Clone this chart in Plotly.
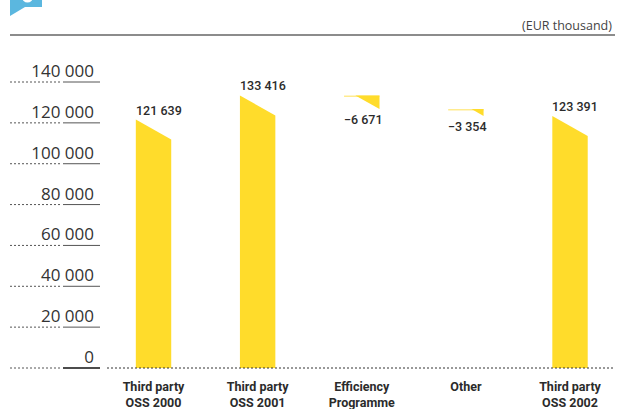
import plotly.graph_objects as go

# Waterfall of third party OSS spending, EUR thousand
categories = ["Third party<br>OSS 2000", "Third party<br>OSS 2001",
              "Efficiency<br>Programme", "Other", "Third party<br>OSS 2002"]
kinds = ["total", "total", "delta", "delta", "total"]
values = [121639, 133416, -6671, -3354, 123391]
y_ticks = [0, 20000, 40000, 60000, 80000, 100000, 120000, 140000]
unit_label = "(EUR thousand)"
title_text = "Third party spending"

W, H = 618, 409
L, R, T, B = 100, 615, 60, 372          # plot area, px
x_range = [-0.514, 4.432]
y_range = [-1958, 150770]

YELLOW = "#FFDC2B"
PALE = "#FFEB8F"
BLUE = "#5BB7DF"
BAR_W = 0.34
SLANT = 9800          # drop of a column's top edge across its width
STRIP = 700           # pale edge on the step columns


def fmt(v):
    s = f"{abs(v):,}".replace(",", " ")
    return ("\u2212" if v < 0 else "") + s


def px(xp):
    return (xp - L) / (R - L)


def py(yp):
    return (B - yp) / (B - T)


fig = go.Figure()
annotations = []
running = 0
for i, (kind, v) in enumerate(zip(kinds, values)):
    xl, xr = i - BAR_W / 2, i + BAR_W / 2
    if kind == "total":
        fig.add_trace(go.Scatter(
            x=[xl, xl, xr, xr, xl], y=[0, v, v - SLANT, 0, 0],
            fill="toself", fillcolor=YELLOW, mode="lines",
            line=dict(width=0, color=YELLOW), hoverinfo="skip", showlegend=False))
        running = v
        annotations.append(dict(x=xl, y=v, xref="x", yref="y", text=fmt(v),
                                xanchor="left", yanchor="bottom", xshift=-2, yshift=0,
                                showarrow=False))
    else:
        top = running
        bottom = running + v
        h = -v
        fig.add_trace(go.Scatter(
            x=[xl, xr, xr, xl, xl], y=[top, top, top - STRIP, top - STRIP, top],
            fill="toself", fillcolor=PALE, mode="lines",
            line=dict(width=0, color=PALE), hoverinfo="skip", showlegend=False))
        fig.add_trace(go.Scatter(
            x=[xr, xr, xr - BAR_W * h / SLANT, xr], y=[top, bottom, top, top],
            fill="toself", fillcolor=YELLOW, mode="lines",
            line=dict(width=0, color=YELLOW), hoverinfo="skip", showlegend=False))
        running = bottom
        annotations.append(dict(x=xl, y=bottom, xref="x", yref="y", text=fmt(v),
                                xanchor="left", yanchor="top", xshift=-2, yshift=-1,
                                showarrow=False))

for a in annotations:
    a["font"] = dict(family="Roboto", size=12.5, color="#2b2b2b", weight=500)

annotations.append(dict(x=px(614), y=py(26), xref="paper", yref="paper",
                        text=unit_label, xanchor="right", yanchor="middle",
                        showarrow=False,
                        font=dict(family="Open Sans", size=12.5, color="#444444")))
# heading runs off the top edge; only its descenders remain on the page
annotations.append(dict(x=px(80), y=py(2), xref="paper", yref="paper",
                        text=title_text, xanchor="left", yanchor="bottom",
                        showarrow=False,
                        font=dict(family="Roboto", size=18, color="#1a1a1a", weight="bold")))

shapes = []
# header rule
shapes.append(dict(type="line", xref="paper", yref="paper",
                   x0=px(10), x1=px(615), y0=py(35), y1=py(35),
                   line=dict(color="#8C8C8C", width=2)))
# header icon
shapes.append(dict(type="path", xref="paper", yref="paper", fillcolor=BLUE,
                   line=dict(width=0),
                   path=(f"M {px(10)},{py(-5)} L {px(42)},{py(-5)} L {px(42)},{py(7)} "
                         f"L {px(25)},{py(7)} L {px(10)},{py(16)} Z")))
shapes.append(dict(type="circle", xref="paper", yref="paper", fillcolor="white",
                   line=dict(width=0),
                   x0=px(22), x1=px(33), y0=py(2.5), y1=py(-8.5)))
# gridline stubs beside the value labels
for v in y_ticks:
    shapes.append(dict(type="line", xref="paper", yref="y",
                       x0=px(10), x1=px(62), y0=v, y1=v,
                       line=dict(color="#555555", width=1, dash="2px,2px")))
    shapes.append(dict(type="line", xref="paper", yref="y",
                       x0=px(63), x1=px(100), y0=v, y1=v,
                       line=dict(color="#111111" if v == 0 else "#555555",
                                 width=1.5 if v == 0 else 1)))
# baseline across the columns
shapes.append(dict(type="line", xref="paper", yref="y",
                   x0=px(107), x1=px(615), y0=0, y1=0,
                   line=dict(color="#333333", width=1, dash="2px,2px")))

fig.update_layout(
    width=W, height=H,
    margin=dict(l=L, r=W - R, t=T, b=H - B, pad=0, autoexpand=False),
    paper_bgcolor="white", plot_bgcolor="white",
    showlegend=False,
    annotations=annotations,
    shapes=shapes,
    xaxis=dict(range=x_range, tickmode="array", tickvals=list(range(len(categories))),
               ticktext=[f"<b>{c}</b>" for c in categories],
               automargin=False,
               showgrid=False, zeroline=False, showline=False, ticks="",
               ticklabelstandoff=5,
               tickfont=dict(family="Roboto", size=12.5, color="#2b2b2b"),
               fixedrange=True),
    yaxis=dict(range=y_range, tickmode="array", tickvals=y_ticks,
               ticktext=[fmt(v) for v in y_ticks],
               automargin=False,
               ticklabelposition="outside top",
               ticklabelshift=1,
               showgrid=False, zeroline=False, showline=False, ticks="",
               ticklabelstandoff=5,
               tickfont=dict(family="Open Sans", size=17, color="#333333"),
               fixedrange=True),
)

fig.write_html("out.html", config={"displayModeBar": False})
